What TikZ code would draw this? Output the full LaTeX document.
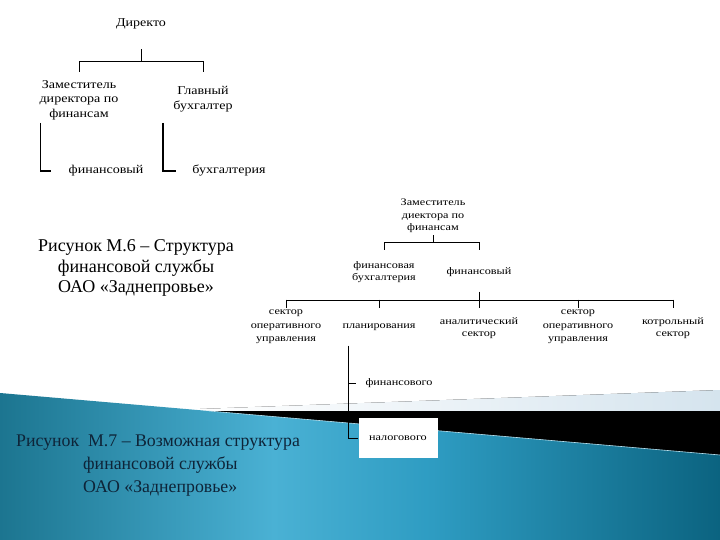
\documentclass[tikz,border=0pt]{standalone}
\usepackage{fontspec}
\setmainfont{Liberation Serif}
\newfontfamily\chartfont[FakeStretch=1.17]{Liberation Serif}
\newfontfamily\smallchartfont[FakeStretch=1.22]{Liberation Serif}
\definecolor{slideL}{HTML}{1C7590}
\definecolor{slideM}{HTML}{4AB1D4}
\definecolor{slideN}{HTML}{2E9CC2}
\definecolor{slideR}{HTML}{0B6380}
\definecolor{bandlight}{HTML}{D5E4EE}
\definecolor{capblue}{HTML}{0E2438}
\pgfdeclarehorizontalshading{slideblue}{100bp}{color(0bp)=(slideL); color(25bp)=(slideL); color(44bp)=(slideM); color(55bp)=(slideN); color(75bp)=(slideR); color(100bp)=(slideR)}
\begin{document}
\begin{tikzpicture}[x=1pt,y=-1pt,line join=miter,
  big/.style={inner sep=2pt,align=center,font=\chartfont\fontsize{12}{14.5}\selectfont},
  sml/.style={inner sep=2pt,align=center,font=\smallchartfont\fontsize{10}{12.5}\selectfont},
  capt/.style={inner sep=0pt,font=\fontsize{18}{20.5}\selectfont},
  brk/.style={line width=1.6pt}]
	% slide background
	\fill[white] (0,0) rectangle (720,540);
	\useasboundingbox (0,0) rectangle (720,540);
	\fill[left color=white,right color=bandlight] (200,409) -- (720,390) -- (720,412) -- (200,412) -- cycle;
	\fill[black] (205,411) -- (720,411) -- (720,456) -- cycle;
	\shade[shading=slideblue] (0,393) -- (720,455) -- (720,540) -- (0,540) -- cycle;
	\draw[color=white!60!slideM,line width=0.6pt] (209,411) -- (720,455);
	% first chart
	\node[big] (dir) at (141,24) {Директо};
	\node[big] (zam1) at (79,100) {Заместитель\\директора по\\финансам};
	\node[big] (glav1) at (203,99) {Главный\\бухгалтер};
	\node[big] (fin1) at (106,171) {финансовый};
	\node[big] (buh1) at (229,171) {бухгалтерия};
	\draw ([yshift=-18pt]dir.south) -- ++(0,12) coordinate (j1);
	\draw (j1 -| zam1) -- (j1 -| glav1);
	\foreach \n in {zam1,glav1}
	\draw (j1 -| \n) -- ++(0,11);
	\draw[brk] ([xshift=3pt,yshift=-1pt]zam1.south west) |- ([xshift=-15pt]fin1.west);
	\draw[brk] ([xshift=-8pt,yshift=-9pt]glav1.south west) |- ([xshift=-14pt]buh1.west);
	\node[capt,align=center] (cap1) at (136,268) {Рисунок М.6 – Структура\\финансовой службы\\ОАО «Заднепровье»};
	% second chart
	\node[sml] (zam2) at (433,216) {Заместитель\\диектора по\\финансам};
	\node[sml] (fb) at (384,272) {финансовая\\бухгалтерия};
	\node[sml] (fv) at (479,272) {финансовый};
	\node[sml,font=\smallchartfont\fontsize{10}{13.5}\selectfont] (so1) at (286,327) {сектор\\оперативного\\управления};
	\node[sml] (pl) at (379,327) {планирования};
	\node[sml] (av) at (479,328) {аналитический\\сектор};
	\node[sml,font=\smallchartfont\fontsize{10}{13.5}\selectfont] (so2) at (578,327) {сектор\\оперативного\\управления};
	\node[sml] (ks) at (673,328) {котрольный\\сектор};
	\node[sml] (fo) at (399,383) {финансового};
	\node[sml,fill=white,minimum width=79pt,minimum height=40pt] (nal) at (398,438) {налогового};
	\draw (zam2.south) -- ++(0,7) coordinate (j2);
	\draw (j2 -| fb) -- (j2 -| fv);
	\foreach \n in {fb,fv}
	\draw (j2 -| \n) -- ++(0,8);
	\path ([yshift=-21pt]fv.south) coordinate (j3);
	\draw ([yshift=-13pt]fv.south) -- (j3);
	\draw (j3 -| so1) -- (j3 -| ks);
	\foreach \n in {so1,pl,av,so2,ks}
	\draw (j3 -| \n) -- ++(0,8);
	\draw ([xshift=8pt,yshift=-13pt]pl.south west) coordinate (j4) |- (nal.west);
	\draw (j4 |- fo.west) -- ++(8,0);
	\node[capt,text=capblue,align=left,anchor=west,font=\fontsize{17.8}{23}\selectfont] (cap2) at (16,466) {Рисунок~~М.7 – Возможная структура\\\hspace*{67pt}финансовой службы\\\hspace*{67pt}ОАО «Заднепровье»};
\end{tikzpicture}
\end{document}
